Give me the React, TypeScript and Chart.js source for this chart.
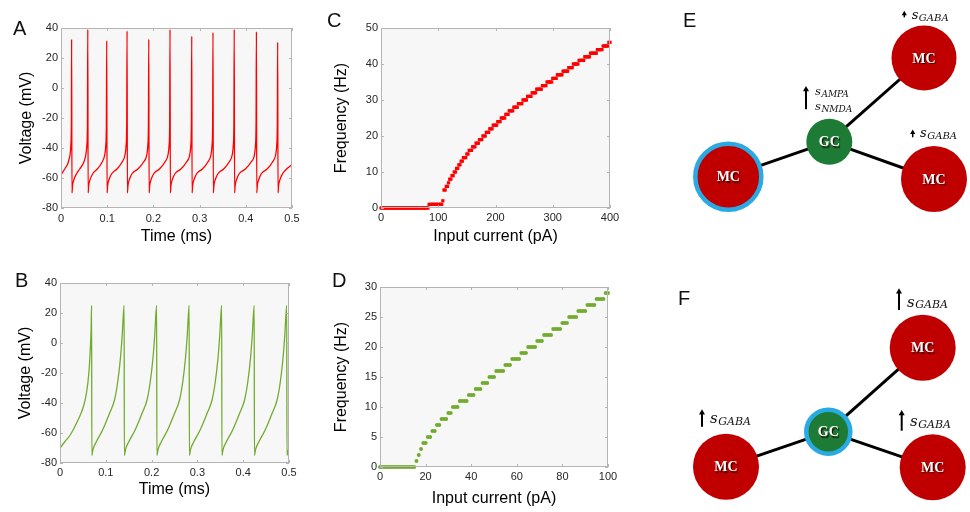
import React, { useEffect, useRef } from "react";
import { Chart, registerables } from "chart.js";

Chart.register(...registerables);
const SANS = "'Liberation Sans', Arial, Helvetica, sans-serif";
Chart.defaults.font.family = SANS;

// ---------------- Panel A : red voltage trace ----------------
const timeA = [
  0, 0.005, 0.01, 0.014, 0.0175, 0.02, 0.0215, 0.0225, 0.023,
  0.0237, 0.025, 0.028, 0.034, 0.0405, 0.0493, 0.054, 0.056, 0.0572, 0.058,
  0.0587, 0.06, 0.063, 0.069, 0.0785, 0.0888, 0.095, 0.097, 0.0982, 0.099,
  0.0997, 0.101, 0.104, 0.11, 0.121, 0.132, 0.139, 0.141, 0.1422, 0.143,
  0.1437, 0.145, 0.148, 0.154, 0.1665, 0.1783, 0.186, 0.188, 0.1892, 0.19,
  0.1907, 0.192, 0.195, 0.201, 0.213, 0.2245, 0.232, 0.234, 0.2352, 0.236,
  0.2367, 0.238, 0.241, 0.247, 0.2595, 0.2713, 0.279, 0.281, 0.2822, 0.283,
  0.2837, 0.285, 0.288, 0.294, 0.306, 0.3175, 0.325, 0.327, 0.3282, 0.329,
  0.3297, 0.331, 0.334, 0.34, 0.352, 0.3635, 0.371, 0.373, 0.3742, 0.375,
  0.3757, 0.377, 0.38, 0.386, 0.399, 0.411, 0.419, 0.421, 0.4222, 0.423,
  0.4237, 0.425, 0.428, 0.434, 0.446, 0.4575, 0.465, 0.467, 0.4682, 0.469,
  0.4697, 0.471, 0.474, 0.48, 0.49, 0.5,
];
const voltA = [
  -58, -55.5, -53, -51, -47.5, -43.5, -37, -22, 32.5,
  -70, -65, -61, -57, -54, -49.5, -44, -38, -25, 39,
  -70, -65, -61, -57, -54, -49.5, -44, -38, -25, 31.5,
  -70, -65, -61, -57, -54, -49.5, -44, -38, -25, 38,
  -70, -65, -61, -57, -54, -49.5, -44, -38, -25, 32.5,
  -70, -65, -61, -57, -54, -49.5, -44, -38, -25, 39,
  -70, -65, -61, -57, -54, -49.5, -44, -38, -25, 34.5,
  -70, -65, -61, -57, -54, -49.5, -44, -38, -25, 37,
  -70, -65, -61, -57, -54, -49.5, -44, -38, -25, 39,
  -70, -65, -61, -57, -54, -49.5, -44, -38, -25, 37.5,
  -70, -65, -61, -57, -54, -49.5, -44, -38, -25, 30.5,
  -70, -65, -61, -57, -53.5, -51,
];

// ---------------- Panel B : green voltage trace ----------------
const timeB = [
  0, 0.01, 0.022, 0.036, 0.051, 0.058, 0.063, 0.066, 0.068, 0.069,
  0.0695, 0.072, 0.079, 0.093, 0.108, 0.119, 0.126, 0.132, 0.136, 0.14,
  0.1405, 0.143, 0.15, 0.164, 0.179, 0.19, 0.197, 0.203, 0.207, 0.211,
  0.2115, 0.214, 0.221, 0.235, 0.25, 0.261, 0.268, 0.274, 0.278, 0.282,
  0.2825, 0.285, 0.292, 0.306, 0.321, 0.332, 0.339, 0.345, 0.349, 0.353,
  0.3535, 0.356, 0.363, 0.377, 0.392, 0.403, 0.41, 0.416, 0.42, 0.424,
  0.4245, 0.427, 0.434, 0.448, 0.463, 0.474, 0.481, 0.487, 0.491, 0.495,
  0.4955, 0.498, 0.5,
];
const voltB = [
  -70, -66, -61.5, -53.5, -42.5, -33, -20, -5, 10, 25,
  -75, -71, -66, -58, -47, -38, -26, -10, 6, 25,
  -75, -71, -66, -58, -47, -38, -26, -10, 6, 25,
  -75, -71, -66, -58, -47, -38, -26, -10, 6, 25,
  -75, -71, -66, -58, -47, -38, -26, -10, 6, 25,
  -75, -71, -66, -58, -47, -38, -26, -10, 6, 25,
  -75, -71, -66, -58, -47, -38, -26, -10, 6, 25,
  -75, -72, -70,
];

// ---------------- Panel C : F-I curve (current sampled every 2 pA) ----------------
const currentC = Array.from({ length: 201 }, (_, i) => i * 2);
const freqC = [
  0, 0, 0, 0, 0, 0, 0, 0, 0, 0,
  0, 0, 0, 0, 0, 0, 0, 0, 0, 0,
  0, 0, 0, 0, 0, 0, 0, 0, 0, 0,
  0, 0, 0, 0, 0, 0, 0, 0, 0, 0,
  0, 0, 1, 1, 1, 1, 1, 1, 1, 1,
  1, 1, 1, 1, 2, 5, 5, 6, 6, 7,
  8, 8, 9, 9, 10, 10, 11, 11, 12, 12,
  13, 13, 14, 14, 14, 15, 15, 16, 16, 16,
  17, 17, 17, 18, 18, 18, 19, 19, 19, 20,
  20, 20, 21, 21, 21, 22, 22, 22, 23, 23,
  23, 23, 24, 24, 24, 25, 25, 25, 25, 26,
  26, 26, 27, 27, 27, 27, 28, 28, 28, 28,
  29, 29, 29, 29, 30, 30, 30, 30, 31, 31,
  31, 31, 32, 32, 32, 32, 33, 33, 33, 33,
  33, 34, 34, 34, 34, 35, 35, 35, 35, 35,
  36, 36, 36, 36, 37, 37, 37, 37, 37, 38,
  38, 38, 38, 38, 39, 39, 39, 39, 40, 40,
  40, 40, 40, 41, 41, 41, 41, 41, 42, 42,
  42, 42, 42, 43, 43, 43, 43, 43, 43, 44,
  44, 44, 44, 44, 45, 45, 45, 45, 45, 46,
  46,
];

// ---------------- Panel D : F-I curve (current sampled every 1 pA) ----------------
const currentD = Array.from({ length: 101 }, (_, i) => i);
const freqD = [
  0, 0, 0, 0, 0, 0, 0, 0, 0, 0,
  0, 0, 0, 0, 0, 0, 1, 2, 3, 4,
  4, 5, 5, 6, 6, 7, 7, 8, 8, 8,
  9, 9, 10, 10, 10, 11, 11, 11, 11, 12,
  12, 12, 13, 13, 13, 14, 14, 14, 15, 15,
  15, 16, 16, 16, 16, 17, 17, 17, 18, 18,
  18, 18, 19, 19, 19, 20, 20, 20, 20, 21,
  21, 21, 22, 22, 22, 22, 23, 23, 23, 23,
  24, 24, 24, 25, 25, 25, 25, 26, 26, 26,
  26, 27, 27, 27, 27, 28, 28, 28, 28, 29,
  29,
];

// ---------------- Panels E / F : network diagrams ----------------
const nodeLabels = ["MC", "GC", "MC", "MC"];
const edgePairs: [number, number][] = [[1, 0], [1, 2], [1, 3]];
const nodeXE = [68.3, 169.3, 264, 274];
const nodeYE = [176.7, 141.7, 58, 179];
const nodeXF = [66, 168.3, 262.7, 272.7];
const nodeYF = [208.7, 173.7, 89.7, 209.3];
const highlightE = 0; // stimulated cell in E
const highlightF = 1; // stimulated cell in F
const subLabelsE = ["GABA", "GABA", "AMPA", "NMDA"];
const subLabelsF = ["GABA", "GABA", "GABA"];

const MC_RED = "#c00000";
const GC_GREEN = "#1e7b36";
const RING = "#2aaae2";

function fmt(v: number) {
  return String(Math.round(v * 1000) / 1000);
}

type AxisSpec = {
  xMin: number; xMax: number; xStep: number; xTitle: string;
  yMin: number; yMax: number; yStep: number; yTitle: string;
  yWidth: number; xHeight: number;
  yTitlePad: number; xTitlePad: number; xTickPad: number; yTickPad: number;
};

function makeScales(s: AxisSpec) {
  return {
    x: {
      type: "linear",
      position: "bottom",
      min: s.xMin,
      max: s.xMax,
      afterFit: (sc: any) => { sc.height = s.xHeight; },
      grid: { display: false, drawTicks: false },
      border: { display: false },
      ticks: {
        stepSize: s.xStep, autoSkip: false, maxRotation: 0, padding: s.xTickPad,
        color: "#262626", font: { size: 11 }, callback: (v: any) => fmt(Number(v)),
      },
      title: {
        display: true, text: s.xTitle, color: "#000", font: { size: 16 },
        padding: { top: 0, bottom: s.xTitlePad },
      },
    },
    y: {
      type: "linear",
      position: "left",
      min: s.yMin,
      max: s.yMax,
      afterFit: (sc: any) => { sc.width = s.yWidth; },
      grid: { display: false, drawTicks: false },
      border: { display: false },
      ticks: {
        stepSize: s.yStep, autoSkip: false, padding: s.yTickPad,
        color: "#262626", font: { size: 11 }, callback: (v: any) => fmt(Number(v)),
      },
      title: {
        display: true, text: s.yTitle, color: "#000", font: { size: 16 },
        padding: { top: s.yTitlePad, bottom: 0 },
      },
    },
  };
}

const boxPlugin = {
  id: "matlabBox",
  beforeDatasetsDraw(chart: any) {
    const { ctx, chartArea: a } = chart;
    ctx.save();
    ctx.fillStyle = "#f7f7f7";
    ctx.fillRect(a.left, a.top, a.right - a.left, a.bottom - a.top);
    ctx.restore();
  },
  afterDatasetsDraw(chart: any) {
    const { ctx, chartArea: a, scales } = chart;
    ctx.save();
    ctx.strokeStyle = "#b4b4b4";
    ctx.lineWidth = 1;
    ctx.strokeRect(a.left + 0.5, a.top + 0.5, a.right - a.left - 1, a.bottom - a.top - 1);
    const tl = 3;
    ctx.beginPath();
    scales.x.ticks.forEach((t: any) => {
      const px = Math.round(scales.x.getPixelForValue(t.value)) + 0.5;
      ctx.moveTo(px, a.bottom); ctx.lineTo(px, a.bottom - tl);
      ctx.moveTo(px, a.top); ctx.lineTo(px, a.top + tl);
    });
    scales.y.ticks.forEach((t: any) => {
      const py = Math.round(scales.y.getPixelForValue(t.value)) + 0.5;
      ctx.moveTo(a.left, py); ctx.lineTo(a.left + tl, py);
      ctx.moveTo(a.right, py); ctx.lineTo(a.right - tl, py);
    });
    ctx.stroke();
    ctx.restore();
  },
};

function letterPlugin(letter: string, x: number, y: number) {
  return {
    id: "panelLetter",
    afterDraw(chart: any) {
      const ctx = chart.ctx;
      ctx.save();
      ctx.font = `20px ${SANS}`;
      ctx.fillStyle = "#111";
      ctx.textAlign = "left";
      ctx.textBaseline = "alphabetic";
      ctx.fillText(letter, x, y);
      ctx.restore();
    },
  };
}

function traceConfig(xs: number[], ys: number[], color: string, spec: AxisSpec, pad: any, letter: any) {
  return {
    type: "scatter",
    data: {
      datasets: [{
        data: xs.map((x, i) => ({ x, y: ys[i] })),
        showLine: true,
        borderColor: color,
        borderWidth: 1.3,
        pointRadius: 0,
        cubicInterpolationMode: "monotone",
      }],
    },
    options: {
      responsive: false,
      animation: false,
      devicePixelRatio: 1,
      events: [],
      layout: { padding: pad, autoPadding: false },
      plugins: { legend: { display: false }, tooltip: { enabled: false } },
      scales: makeScales(spec),
    },
    plugins: [boxPlugin, letterPlugin(letter.t, letter.x, letter.y)],
  } as any;
}

function fiConfig(xs: number[], ys: number[], color: string, style: string, radius: number, spec: AxisSpec, pad: any, letter: any) {
  return {
    type: "scatter",
    data: {
      datasets: [{
        data: xs.map((x, i) => ({ x, y: ys[i] })),
        backgroundColor: color,
        borderWidth: 0,
        pointStyle: style,
        pointRadius: radius,
        clip: false,
      }],
    },
    options: {
      responsive: false,
      animation: false,
      devicePixelRatio: 1,
      events: [],
      layout: { padding: pad, autoPadding: false },
      plugins: { legend: { display: false }, tooltip: { enabled: false } },
      scales: makeScales(spec),
    },
    plugins: [boxPlugin, letterPlugin(letter.t, letter.x, letter.y)],
  } as any;
}

const buildA = () => traceConfig(timeA, voltA, "#ff0000", {
  xMin: 0, xMax: 0.5, xStep: 0.1, xTitle: "Time (ms)",
  yMin: -80, yMax: 40, yStep: 20, yTitle: "Voltage (mV)",
  yWidth: 61, xHeight: 47, yTitlePad: 17.4, xTitlePad: 8.4, xTickPad: 4, yTickPad: 3,
}, { top: 28, right: 28, left: 0, bottom: 0 }, { t: "A", x: 13, y: 35 });

const buildB = () => traceConfig(timeB, voltB, "#72ac2f", {
  xMin: 0, xMax: 0.5, xStep: 0.1, xTitle: "Time (ms)",
  yMin: -80, yMax: 40, yStep: 20, yTitle: "Voltage (mV)",
  yWidth: 60, xHeight: 49, yTitlePad: 16.4, xTitlePad: 12.4, xTickPad: 3, yTickPad: 3,
}, { top: 25, right: 31, left: 0, bottom: 0 }, { t: "B", x: 15, y: 29 });

const buildC = () => fiConfig(currentC, freqC, "#ff0000", "rect", 2.3, {
  xMin: 0, xMax: 400, xStep: 100, xTitle: "Input current (pA)",
  yMin: 0, yMax: 50, yStep: 10, yTitle: "Frequency (Hz)",
  yWidth: 61, xHeight: 47, yTitlePad: 12.4, xTitlePad: 8.4, xTickPad: 3.5, yTickPad: 3,
}, { top: 28, right: 40, left: 0, bottom: 0 }, { t: "C", x: 7, y: 27 });

const buildD = () => fiConfig(currentD, freqD, "#72ac2f", "circle", 2, {
  xMin: 0, xMax: 100, xStep: 20, xTitle: "Input current (pA)",
  yMin: 0, yMax: 30, yStep: 5, yTitle: "Frequency (Hz)",
  yWidth: 60, xHeight: 45, yTitlePad: 12.4, xTitlePad: 3.4, xTickPad: 3.4, yTickPad: 3,
}, { top: 29, right: 42, left: 0, bottom: 0 }, { t: "D", x: 12, y: 29 });

type Arrow = { x: number; base: number; tip: number; head: number; lw: number };
type SubLabel = { x: number; y: number; sub: string; ms: number; ss: number };

function diagramConfig(
  nx: number[], ny: number[], hi: number, h: number,
  arrows: Arrow[], labels: SubLabel[], letter: any, gcR: number, mcR: number[],
) {
  const datasets: any[] = [];
  edgePairs.forEach(([a, b]) => {
    datasets.push({
      data: [{ x: nx[a], y: ny[a] }, { x: nx[b], y: ny[b] }],
      showLine: true, borderColor: "#000", borderWidth: 3, pointRadius: 0, order: 3, clip: false,
    });
  });
  arrows.forEach((ar) => {
    datasets.push({
      data: [{ x: ar.x, y: ar.base }, { x: ar.x, y: ar.tip + ar.head }],
      showLine: true, borderColor: "#000", borderWidth: ar.lw,
      pointRadius: [0, ar.head], pointStyle: "triangle",
      pointBackgroundColor: "#000", pointBorderWidth: 0, order: 1, clip: false,
    });
  });
  const radii = nodeLabels.map((l, i) => (l === "GC" ? gcR : mcR[i]));
  datasets.push({
    data: nx.map((x, i) => ({ x, y: ny[i] })),
    pointRadius: radii,
    pointBackgroundColor: nodeLabels.map((l) => (l === "GC" ? GC_GREEN : MC_RED)),
    pointBorderColor: nodeLabels.map((_, i) => (i === hi ? RING : "rgba(0,0,0,0)")),
    pointBorderWidth: nodeLabels.map((_, i) => (i === hi ? 4.5 : 0)),
    order: 2, clip: false,
  });
  const textPlugin = {
    id: "diagramText",
    afterDatasetsDraw(chart: any) {
      const { ctx, scales } = chart;
      ctx.save();
      nodeLabels.forEach((l, i) => {
        const px = scales.x.getPixelForValue(nx[i]);
        const py = scales.y.getPixelForValue(ny[i]);
        ctx.font = "bold 14px 'Liberation Serif', 'DejaVu Serif', serif";
        ctx.textAlign = "center";
        ctx.textBaseline = "middle";
        ctx.shadowColor = "rgba(30,0,0,0.85)";
        ctx.shadowOffsetX = 1.2;
        ctx.shadowOffsetY = 1.2;
        ctx.shadowBlur = 1;
        ctx.fillStyle = "#fff";
        ctx.fillText(l, px, py + 1);
      });
      ctx.shadowColor = "rgba(0,0,0,0)";
      ctx.shadowOffsetX = 0;
      ctx.shadowOffsetY = 0;
      ctx.shadowBlur = 0;
      labels.forEach((lb) => {
        const px = scales.x.getPixelForValue(lb.x);
        const py = scales.y.getPixelForValue(lb.y);
        ctx.fillStyle = "#111";
        ctx.textAlign = "left";
        ctx.textBaseline = "alphabetic";
        ctx.font = `italic ${lb.ms}px 'DejaVu Serif', serif`;
        ctx.fillText("s", px, py);
        const w = ctx.measureText("s").width;
        ctx.font = `italic ${lb.ss}px 'DejaVu Serif', serif`;
        ctx.fillText(lb.sub, px + w + 0.5, py + 1.5);
      });
      ctx.font = `20px ${SANS}`;
      ctx.fillStyle = "#111";
      ctx.textAlign = "left";
      ctx.textBaseline = "alphabetic";
      ctx.fillText(letter.t, letter.x, letter.y);
      ctx.restore();
    },
  };
  return {
    type: "scatter",
    data: { datasets },
    options: {
      responsive: false,
      animation: false,
      devicePixelRatio: 1,
      events: [],
      layout: { padding: 0, autoPadding: false },
      plugins: { legend: { display: false }, tooltip: { enabled: false } },
      scales: {
        x: { type: "linear", min: 0, max: 310, display: false },
        y: { type: "linear", min: 0, max: h, reverse: true, display: false },
      },
    },
    plugins: [textPlugin],
  } as any;
}

const buildE = () => diagramConfig(
  nodeXE, nodeYE, highlightE, 258,
  [
    { x: 244.3, base: 17.3, tip: 10.7, head: 3, lw: 1.5 },
    { x: 252.7, base: 137.3, tip: 129.5, head: 3, lw: 1.5 },
    { x: 146, base: 109.3, tip: 86, head: 3.5, lw: 2 },
  ],
  [
    { x: 251.7, y: 19.3, sub: subLabelsE[0], ms: 13, ss: 10 },
    { x: 260, y: 137.3, sub: subLabelsE[1], ms: 13, ss: 10 },
    { x: 155, y: 95, sub: subLabelsE[2], ms: 11.5, ss: 9 },
    { x: 155, y: 110, sub: subLabelsE[3], ms: 11.5, ss: 9 },
  ],
  { t: "E", x: 23, y: 27 }, 23, [33, 23, 32.5, 33],
);

const buildF = () => diagramConfig(
  nodeXF, nodeYF, highlightF, 254,
  [
    { x: 239, base: 52, tip: 30.3, head: 3.5, lw: 2 },
    { x: 42, base: 168.7, tip: 151.3, head: 3.5, lw: 2 },
    { x: 241.7, base: 172.7, tip: 152, head: 3.5, lw: 2 },
  ],
  [
    { x: 247, y: 48.7, sub: subLabelsF[0], ms: 15, ss: 11 },
    { x: 50, y: 165, sub: subLabelsF[1], ms: 15, ss: 11 },
    { x: 250, y: 168, sub: subLabelsF[2], ms: 15, ss: 11 },
  ],
  { t: "F", x: 18, y: 47 }, 22, [33, 22, 33, 33],
);

function ChartBox({ x, y, w, h, build }: { x: number; y: number; w: number; h: number; build: () => any }) {
  const ref = useRef<HTMLCanvasElement>(null);
  useEffect(() => {
    const chart = new Chart(ref.current as HTMLCanvasElement, build());
    return () => chart.destroy();
  }, [build]);
  return (
    <canvas
      ref={ref}
      width={w}
      height={h}
      style={{ position: "absolute", left: x, top: y, width: w, height: h }}
    />
  );
}

export default function App() {
  return (
    <div style={{ position: "absolute", left: 0, top: 0, width: 970, height: 512, background: "#fff", overflow: "hidden" }}>
      <ChartBox x={0} y={0} w={320} h={255} build={buildA} />
      <ChartBox x={0} y={258} w={320} h={254} build={buildB} />
      <ChartBox x={320} y={0} w={330} h={255} build={buildC} />
      <ChartBox x={320} y={258} w={330} h={254} build={buildD} />
      <ChartBox x={660} y={0} w={310} h={258} build={buildE} />
      <ChartBox x={660} y={258} w={310} h={254} build={buildF} />
    </div>
  );
}
